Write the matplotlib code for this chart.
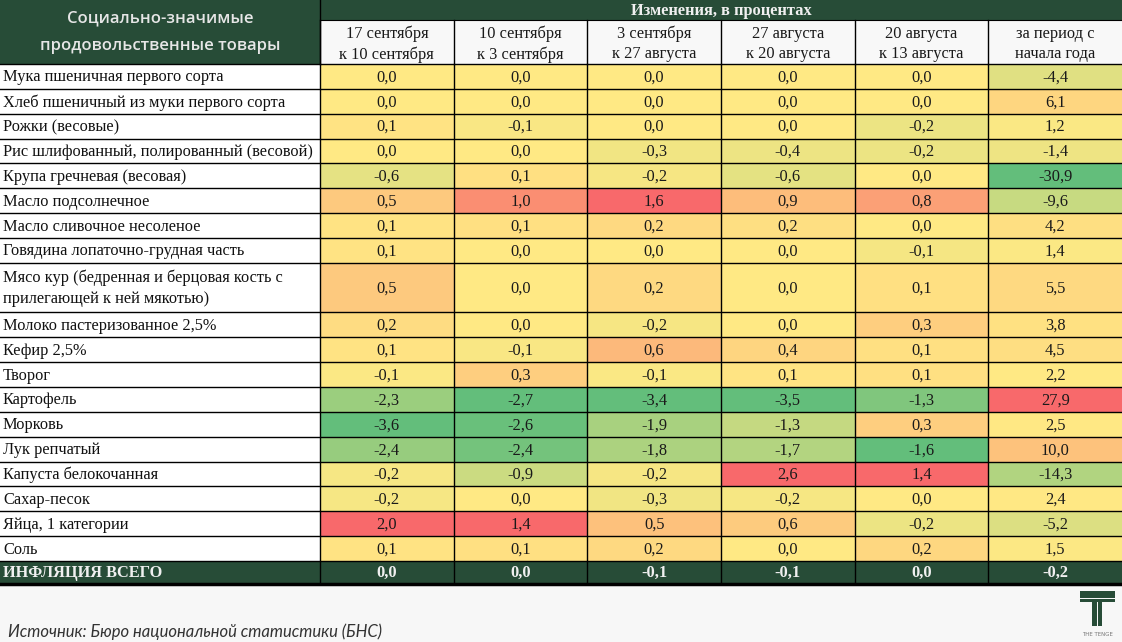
import matplotlib
matplotlib.use("Agg")
import matplotlib.pyplot as plt
from matplotlib.patches import Rectangle
import numpy as np

products = [
    "Мука пшеничная первого сорта",
    "Хлеб пшеничный из муки первого сорта",
    "Рожки (весовые)",
    "Рис шлифованный, полированный (весовой)",
    "Крупа гречневая (весовая)",
    "Масло подсолнечное",
    "Масло сливочное несоленое",
    "Говядина лопаточно-грудная часть",
    "Мясо кур (бедренная и берцовая кость с\nприлегающей к ней мякотью)",
    "Молоко пастеризованное 2,5%",
    "Кефир 2,5%",
    "Творог",
    "Картофель",
    "Морковь",
    "Лук репчатый",
    "Капуста белокочанная",
    "Сахар-песок",
    "Яйца, 1 категории",
    "Соль",
]
col_headers = [
    "17 сентября\nк 10 сентября",
    "10 сентября\nк 3 сентября",
    "3 сентября\nк 27 августа",
    "27 августа\nк 20 августа",
    "20 августа\nк 13 августа",
    "за период с\nначала года",
]
sep17 = [0.0, 0.0, 0.1, 0.0, -0.6, 0.5, 0.1, 0.1, 0.5, 0.2, 0.1, -0.1, -2.3, -3.6, -2.4, -0.2, -0.2, 2.0, 0.1]
sep10 = [0.0, 0.0, -0.1, 0.0, 0.1, 1.0, 0.1, 0.0, 0.0, 0.0, -0.1, 0.3, -2.7, -2.6, -2.4, -0.9, 0.0, 1.4, 0.1]
sep03 = [0.0, 0.0, 0.0, -0.3, -0.2, 1.6, 0.2, 0.0, 0.2, -0.2, 0.6, -0.1, -3.4, -1.9, -1.8, -0.2, -0.3, 0.5, 0.2]
aug27 = [0.0, 0.0, 0.0, -0.4, -0.6, 0.9, 0.2, 0.0, 0.0, 0.0, 0.4, 0.1, -3.5, -1.3, -1.7, 2.6, -0.2, 0.6, 0.0]
aug20 = [0.0, 0.0, -0.2, -0.2, 0.0, 0.8, 0.0, -0.1, 0.1, 0.3, 0.1, 0.1, -1.3, 0.3, -1.6, 1.4, 0.0, -0.2, 0.2]
ytd = [-4.4, 6.1, 1.2, -1.4, -30.9, -9.6, 4.2, 1.4, 5.5, 3.8, 4.5, 2.2, 27.9, 2.5, 10.0, -14.3, 2.4, -5.2, 1.5]
inflation = [0.0, 0.0, -0.1, -0.1, 0.0, -0.2]

columns = [sep17, sep10, sep03, aug27, aug20, ytd]

DARK = "#274C37"
GREEN = np.array([99, 190, 123]) / 255
YELLOW = np.array([255, 233, 132]) / 255
RED = np.array([248, 105, 107]) / 255
SERIF = "Liberation Serif"
FS = 11.8


def scale_color(v, vals):
    # excel-like 3 colour scale: min / median / max
    lo, mid, hi = min(vals), float(np.median(vals)), max(vals)
    if v <= mid:
        t = (v - lo) / (mid - lo) if mid > lo else 1.0
        return GREEN + t * (YELLOW - GREEN)
    t = (v - mid) / (hi - mid) if hi > mid else 0.0
    return YELLOW + t * (RED - YELLOW)


def fmt(v):
    return f"{v:.1f}".replace(".", ",")


W, H = 1122, 642
fig = plt.figure(figsize=(W / 100, H / 100), dpi=100)
fig.patch.set_facecolor("#F7F7F7")
ax = fig.add_axes([0, 0, 1, 1])
ax.set_xlim(0, W)
ax.set_ylim(H, 0)
ax.axis("off")

label_w = 320
col_w = (W - label_w) / len(columns)
band_h, sub_h = 20, 44
unit = 24.85
infl_h = 22
top = band_h + sub_h

# header
ax.add_patch(Rectangle((0, 0), W, band_h, facecolor=DARK, edgecolor="none"))
ax.add_patch(Rectangle((0, 0), label_w, top, facecolor=DARK, edgecolor="none"))
ax.add_patch(Rectangle((label_w, band_h), W - label_w, sub_h, facecolor="#F8F8F8", edgecolor="none"))
ax.text(label_w + (W - label_w) / 2, band_h / 2 + 1, "Изменения, в процентах", ha="center", va="center",
        fontsize=FS, fontweight="bold", color="#F0F0F0", family=SERIF)
ax.text(label_w / 2, 18, "Социально-значимые", ha="center", va="center", fontsize=12,
        fontweight="semibold", color="#E6E6E6", family="Open Sans")
ax.text(label_w / 2, 46, "продовольственные товары", ha="center", va="center", fontsize=12,
        fontweight="semibold", color="#E6E6E6", family="Open Sans")
for j, h in enumerate(col_headers):
    x0 = label_w + j * col_w
    ax.text(x0 + col_w / 2, band_h + sub_h / 2 + 2, h, ha="center", va="center", fontsize=FS,
            color="#1A1A1A", family=SERIF, linespacing=1.35)
    ax.plot([x0, x0], [band_h, top], color="black", lw=1)
ax.plot([label_w, label_w], [0, top], color="black", lw=1)
ax.plot([label_w, W], [band_h, band_h], color="black", lw=0.8)

# body
y = top
for i, name in enumerate(products):
    h = unit * (2 if "\n" in name else 1)
    ax.add_patch(Rectangle((0, y), label_w, h, facecolor="white", edgecolor="none"))
    ax.text(3, y + h / 2 + 1, name, ha="left", va="center", fontsize=FS, color="#111111",
            family=SERIF, linespacing=1.4)
    for j, vals in enumerate(columns):
        x0 = label_w + j * col_w
        ax.add_patch(Rectangle((x0, y), col_w, h, facecolor=scale_color(vals[i], vals), edgecolor="none"))
        ax.text(x0 + col_w / 2, y + h / 2 + 1, fmt(vals[i]), ha="center", va="center",
                fontsize=FS, color="#1A1A1A", family=SERIF)
    ax.plot([0, W], [y, y], color="black", lw=1)
    y += h
ax.plot([0, W], [y, y], color="black", lw=1)

# inflation row
ax.add_patch(Rectangle((0, y), W, infl_h, facecolor=DARK, edgecolor="none"))
ax.text(3, y + infl_h / 2 + 1, "ИНФЛЯЦИЯ ВСЕГО", ha="left", va="center", fontsize=FS,
        fontweight="bold", color="#F0F0F0", family=SERIF)
for j, v in enumerate(inflation):
    x0 = label_w + j * col_w
    ax.text(x0 + col_w / 2, y + infl_h / 2 + 1, fmt(v), ha="center", va="center", fontsize=FS,
            fontweight="bold", color="#F0F0F0", family=SERIF)
bottom = y + infl_h
ax.plot([0, W], [bottom + 1, bottom + 1], color="black", lw=2.5)

# vertical grid lines through body
for j in range(len(columns)):
    x0 = label_w + j * col_w
    ax.plot([x0, x0], [top, bottom], color="black", lw=1)

# source
ax.text(8, 632, "Источник: Бюро национальной статистики (БНС)", ha="left", va="center",
        fontsize=12, style="italic", color="#333333", family="Lato")

# logo
ax.add_patch(Rectangle((1080, 591), 35, 6.5, facecolor=DARK, edgecolor="none"))
ax.add_patch(Rectangle((1080, 598.5), 35, 3.5, facecolor=DARK, edgecolor="none"))
ax.add_patch(Rectangle((1092.5, 602), 4.5, 24, facecolor=DARK, edgecolor="none"))
ax.add_patch(Rectangle((1098, 602), 4.5, 24, facecolor=DARK, edgecolor="none"))
ax.text(1097, 634, "THE TENGE", ha="center", va="center", fontsize=4, color="#777777", family="DejaVu Sans")

fig.savefig("out.png", dpi=100, facecolor=fig.get_facecolor())
